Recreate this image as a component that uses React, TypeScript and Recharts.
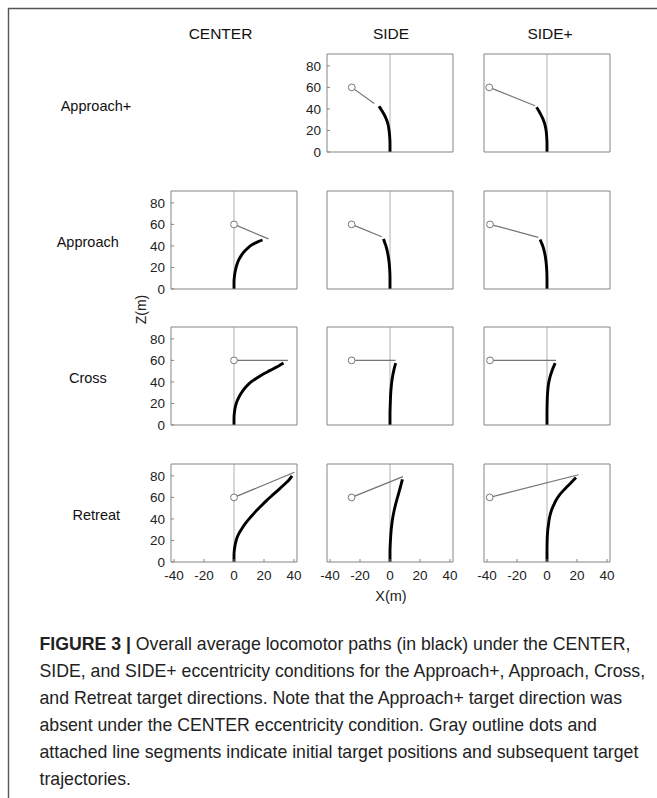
import React from 'react';
import { ComposedChart, Line, XAxis, YAxis } from 'recharts';

type Pt = { x: number; z: number };

const columnTitles = ['CENTER', 'SIDE', 'SIDE+'];
const rowTitles = ['Approach+', 'Approach', 'Cross', 'Retreat'];
const xTicks = [-40, -20, 0, 20, 40];
const zTicks = [0, 20, 40, 60, 80];
const xDomain: [number, number] = [-42, 42];
const zDomain: [number, number] = [0, 91];
const zeroLine: Pt[] = [{ x: 0, z: 0 }, { x: 0, z: 91 }];

// locomotor paths (black) and target trajectories (gray), x and z in metres
const sideApproachPlusPath: Pt[] = [
  { x: 0, z: 0 }, { x: 0, z: 8 }, { x: -0.2, z: 14 }, { x: -0.6, z: 20 }, { x: -1.4, z: 26 },
  { x: -2.6, z: 31 }, { x: -4, z: 35 }, { x: -5.5, z: 38.5 }, { x: -7.3, z: 42.5 },
];
const sideApproachPlusTarget: Pt[] = [{ x: -25.5, z: 60 }, { x: -10.5, z: 45 }];

const sidePlusApproachPlusPath: Pt[] = [
  { x: 0, z: 0 }, { x: 0, z: 8 }, { x: -0.2, z: 14 }, { x: -0.6, z: 20 }, { x: -1.5, z: 26 },
  { x: -2.8, z: 31 }, { x: -4.2, z: 35 }, { x: -5.6, z: 38.5 }, { x: -7, z: 41.5 },
];
const sidePlusApproachPlusTarget: Pt[] = [{ x: -38.5, z: 60 }, { x: -8, z: 43 }];

const centerApproachPath: Pt[] = [
  { x: 0, z: 0 }, { x: 0, z: 6 }, { x: 0.3, z: 12 }, { x: 0.9, z: 17 }, { x: 1.8, z: 22 },
  { x: 3, z: 26.5 }, { x: 4.8, z: 31 }, { x: 7, z: 35 }, { x: 9.5, z: 38.5 },
  { x: 12.5, z: 41.5 }, { x: 15.8, z: 43.8 }, { x: 19, z: 45.5 },
];
const centerApproachTarget: Pt[] = [{ x: 0, z: 60 }, { x: 23, z: 46.5 }];

const sideApproachPath: Pt[] = [
  { x: 0, z: 0 }, { x: 0, z: 10 }, { x: -0.2, z: 18 }, { x: -0.7, z: 26 }, { x: -1.5, z: 33 },
  { x: -2.6, z: 39.5 }, { x: -3.5, z: 43 }, { x: -4.3, z: 46.5 },
];
const sideApproachTarget: Pt[] = [{ x: -25.6, z: 60 }, { x: -5.5, z: 48.5 }];

const sidePlusApproachPath: Pt[] = [
  { x: 0, z: 0 }, { x: 0, z: 10 }, { x: -0.2, z: 18 }, { x: -0.7, z: 26 }, { x: -1.5, z: 33 },
  { x: -2.7, z: 39.5 }, { x: -3.7, z: 43 }, { x: -4.6, z: 46 },
];
const sidePlusApproachTarget: Pt[] = [{ x: -38, z: 60 }, { x: -5.8, z: 48 }];

const centerCrossPath: Pt[] = [
  { x: 0, z: 0 }, { x: 0, z: 6 }, { x: 0.3, z: 12 }, { x: 1, z: 17.5 }, { x: 2, z: 22 },
  { x: 3.5, z: 26.5 }, { x: 5.5, z: 31 }, { x: 8, z: 35.5 }, { x: 11, z: 39.5 },
  { x: 14.5, z: 43 }, { x: 18.5, z: 46.5 }, { x: 22.5, z: 49.5 }, { x: 26.5, z: 52.5 },
  { x: 30, z: 55 }, { x: 33, z: 57.5 },
];
const centerCrossTarget: Pt[] = [{ x: 0, z: 60 }, { x: 36, z: 60 }];

const sideCrossPath: Pt[] = [
  { x: 0, z: 0 }, { x: 0, z: 10 }, { x: 0.2, z: 20 }, { x: 0.5, z: 30 }, { x: 1, z: 38 },
  { x: 1.7, z: 45 }, { x: 2.5, z: 50.5 }, { x: 3.2, z: 54.5 }, { x: 3.8, z: 57.5 },
];
const sideCrossTarget: Pt[] = [{ x: -25.6, z: 60 }, { x: 3.7, z: 60 }];

const sidePlusCrossPath: Pt[] = [
  { x: 0, z: 0 }, { x: 0, z: 10 }, { x: 0.1, z: 20 }, { x: 0.4, z: 30 }, { x: 1, z: 38 },
  { x: 1.9, z: 44 }, { x: 3, z: 49 }, { x: 4.2, z: 53.5 }, { x: 5.5, z: 57.5 },
];
const sidePlusCrossTarget: Pt[] = [{ x: -38, z: 60 }, { x: 6, z: 60 }];

const centerRetreatPath: Pt[] = [
  { x: 0, z: 0 }, { x: 0, z: 6 }, { x: 0.3, z: 12 }, { x: 1, z: 17.5 }, { x: 2, z: 22.5 },
  { x: 3.5, z: 27 }, { x: 5.5, z: 31.5 }, { x: 8, z: 36.5 }, { x: 11, z: 41.5 },
  { x: 14.5, z: 47 }, { x: 18, z: 52 }, { x: 22, z: 57.5 }, { x: 26, z: 62.5 },
  { x: 30, z: 67.5 }, { x: 33.5, z: 72 }, { x: 36.5, z: 76 }, { x: 38.7, z: 80 },
];
const centerRetreatTarget: Pt[] = [{ x: 0, z: 60 }, { x: 40.3, z: 83.3 }];

const sideRetreatPath: Pt[] = [
  { x: 0, z: 0 }, { x: 0, z: 10 }, { x: 0.3, z: 20 }, { x: 0.8, z: 30 }, { x: 1.7, z: 40 },
  { x: 2.8, z: 48 }, { x: 4, z: 55 }, { x: 5.3, z: 61.5 }, { x: 6.5, z: 67.5 },
  { x: 7.5, z: 72.5 }, { x: 8.3, z: 76.8 },
];
const sideRetreatTarget: Pt[] = [{ x: -25.6, z: 60 }, { x: 8.6, z: 79.3 }];

const sidePlusRetreatPath: Pt[] = [
  { x: 0, z: 0 }, { x: 0, z: 10 }, { x: 0.1, z: 20 }, { x: 0.4, z: 28 }, { x: 1, z: 35 },
  { x: 1.8, z: 42 }, { x: 3, z: 48 }, { x: 4.5, z: 53 }, { x: 6.3, z: 58 },
  { x: 8.5, z: 62.5 }, { x: 11, z: 66.5 }, { x: 13.8, z: 70.5 }, { x: 16.6, z: 74.5 },
  { x: 19.3, z: 78.5 },
];
const sidePlusRetreatTarget: Pt[] = [{ x: -38.2, z: 60 }, { x: 21, z: 81 }];

const captionLines = [
  'Overall average locomotor paths (in black) under the CENTER,',
  'SIDE, and SIDE+ eccentricity conditions for the Approach+, Approach, Cross,',
  'and Retreat target directions. Note that the Approach+ target direction was',
  'absent under the CENTER eccentricity condition. Gray outline dots and',
  'attached line segments indicate initial target positions and subsequent target',
  'trajectories.',
];

type Panel = { row: number; col: number; path: Pt[]; target: Pt[] };

const panels: Panel[] = [
  { row: 0, col: 1, path: sideApproachPlusPath, target: sideApproachPlusTarget },
  { row: 0, col: 2, path: sidePlusApproachPlusPath, target: sidePlusApproachPlusTarget },
  { row: 1, col: 0, path: centerApproachPath, target: centerApproachTarget },
  { row: 1, col: 1, path: sideApproachPath, target: sideApproachTarget },
  { row: 1, col: 2, path: sidePlusApproachPath, target: sidePlusApproachTarget },
  { row: 2, col: 0, path: centerCrossPath, target: centerCrossTarget },
  { row: 2, col: 1, path: sideCrossPath, target: sideCrossTarget },
  { row: 2, col: 2, path: sidePlusCrossPath, target: sidePlusCrossTarget },
  { row: 3, col: 0, path: centerRetreatPath, target: centerRetreatTarget },
  { row: 3, col: 1, path: sideRetreatPath, target: sideRetreatTarget },
  { row: 3, col: 2, path: sidePlusRetreatPath, target: sidePlusRetreatTarget },
];

const FONT = '"Liberation Sans", Arial, Helvetica, sans-serif';
const colLeft = [171, 327, 484];
const rowTop = [54, 191, 327, 464];
const PW = 126;
const PH = 98;
const LEFT_W = 30;
const RIGHT_PAD = 12;
const BOTTOM_H = 24;
const BOX = '#858585';
const TICK_FS = 13.5;

const XTick = (props: any) => {
  const { x, y, payload } = props;
  return (
    <text x={x} y={y + 18} textAnchor="middle" fontFamily={FONT} fontSize={TICK_FS} fill="#222">
      {payload.value}
    </text>
  );
};

const YTick = (props: any) => {
  const { x, y, payload } = props;
  return (
    <text x={x} y={y + 5} textAnchor="end" fontFamily={FONT} fontSize={TICK_FS} fill="#222">
      {payload.value}
    </text>
  );
};

const startDot = (props: any) => {
  const { cx, cy, index } = props;
  if (index !== 0) return <g key={`d${index}`} />;
  return <circle key={`d${index}`} cx={cx} cy={cy} r={3.4} fill="#fff" stroke="#777" strokeWidth={1} />;
};

function PathPanel({ panel }: { panel: Panel }) {
  const showY = panel.col === 0 || (panel.row === 0 && panel.col === 1);
  const showX = panel.row === 3;
  return (
    <div style={{ position: 'absolute', left: colLeft[panel.col] - LEFT_W, top: rowTop[panel.row] - 1 }}>
      <ComposedChart
        width={LEFT_W + PW + 1 + RIGHT_PAD}
        height={1 + PH + BOTTOM_H}
        margin={{ top: 0, right: RIGHT_PAD, bottom: 0, left: 0 }}
      >
        <XAxis
          dataKey="x"
          type="number"
          domain={xDomain}
          ticks={xTicks}
          interval={0}
          allowDataOverflow
          height={BOTTOM_H}
          stroke={BOX}
          tickSize={-3}
          tickMargin={3}
          tick={showX ? <XTick /> : false}
        />
        <XAxis
          xAxisId="top"
          orientation="top"
          type="number"
          domain={xDomain}
          ticks={xTicks}
          interval={0}
          allowDataOverflow
          height={1}
          stroke={BOX}
          tickSize={-3}
          tick={false}
        />
        <YAxis
          type="number"
          domain={zDomain}
          ticks={zTicks}
          interval={0}
          allowDataOverflow
          width={LEFT_W}
          stroke={BOX}
          tickSize={-3}
          tickMargin={9}
          tick={showY ? <YTick /> : false}
        />
        <YAxis
          yAxisId="right"
          orientation="right"
          type="number"
          domain={zDomain}
          ticks={zTicks}
          interval={0}
          allowDataOverflow
          width={1}
          stroke={BOX}
          tickSize={-3}
          tick={false}
        />
        <Line
          data={zeroLine}
          dataKey="z"
          type="linear"
          stroke="#b0b0b0"
          strokeWidth={1}
          dot={false}
          isAnimationActive={false}
        />
        <Line
          data={panel.target}
          dataKey="z"
          type="linear"
          stroke="#747474"
          strokeWidth={1.2}
          dot={startDot}
          isAnimationActive={false}
        />
        <Line
          data={panel.path}
          dataKey="z"
          type="monotoneY"
          stroke="#000"
          strokeWidth={2.9}
          strokeLinecap="butt"
          dot={false}
          isAnimationActive={false}
        />
      </ComposedChart>
    </div>
  );
}

export default function App() {
  const titleX = [220.5, 391, 550];
  const rowLabel = [
    { x: 60.7, y: 110.7 },
    { x: 56.7, y: 247.3 },
    { x: 69, y: 383.3 },
    { x: 72.5, y: 520.3 },
  ];
  return (
    <div style={{ position: 'absolute', left: 0, top: 0, width: 657, height: 798, background: '#fff', fontFamily: FONT }}>
      <svg width={657} height={798} style={{ position: 'absolute', left: 0, top: 0 }}>
        <line x1={8} y1={8.5} x2={657} y2={8.5} stroke="#555" strokeWidth={1.4} />
        <line x1={8.5} y1={8} x2={8.5} y2={798} stroke="#555" strokeWidth={1.4} />
        {columnTitles.map((t, i) => (
          <text key={t} x={titleX[i]} y={39} textAnchor="middle" fontSize={15.5} fill="#111" fontFamily={FONT}>
            {t}
          </text>
        ))}
        {rowTitles.map((t, i) => (
          <text key={t} x={rowLabel[i].x} y={rowLabel[i].y} fontSize={14.5} fill="#111" fontFamily={FONT}>
            {t}
          </text>
        ))}
        <text
          x={140.5}
          y={309.5}
          transform="rotate(-90 140.5 309.5)"
          textAnchor="middle"
          dominantBaseline="central"
          fontSize={14}
          fill="#222"
          fontFamily={FONT}
        >
          Z(m)
        </text>
        <text x={391} y={601} textAnchor="middle" fontSize={14.5} fill="#222" fontFamily={FONT}>
          X(m)
        </text>
        {captionLines.map((line, i) => (
          <text key={i} x={39.5} y={650 + i * 27} fontSize={17.7} fill="#222" fontFamily={FONT}>
            {i === 0 && <tspan fontWeight="bold">FIGURE 3 | </tspan>}
            {line}
          </text>
        ))}
      </svg>
      {panels.map((p) => (
        <PathPanel key={`${p.row}-${p.col}`} panel={p} />
      ))}
    </div>
  );
}
